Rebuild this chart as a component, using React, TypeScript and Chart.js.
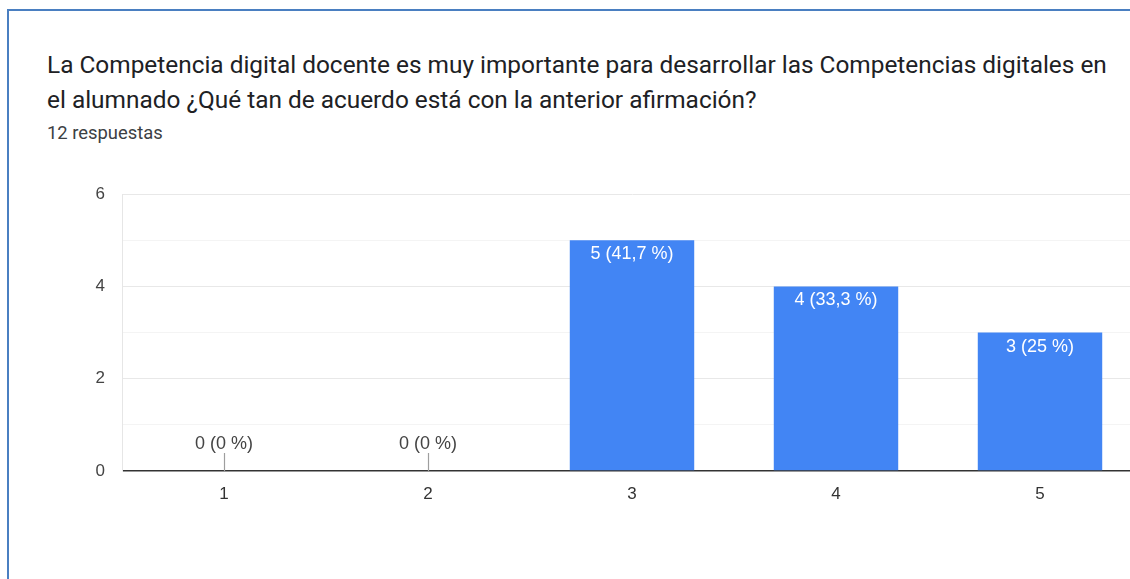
import React, { useEffect, useRef } from "react";
import { Chart, registerables } from "chart.js";

Chart.register(...registerables);

const titleLines = [
  "La Competencia digital docente es muy importante para desarrollar las Competencias digitales en",
  "el alumnado ¿Qué tan de acuerdo está con la anterior afirmación?",
];
const responsesLabel = "12 respuestas";
const totalResponses = 12;
const categories = ["1", "2", "3", "4", "5"];
const counts = [0, 0, 5, 4, 3];
const yTicks = [0, 2, 4, 6];

const chartFont = "Arial, 'Liberation Sans', sans-serif";

const fmtPct = (v: number) => {
  const p = Math.round((v / totalResponses) * 1000) / 10;
  return String(p).replace(".", ",") + " %";
};

const labelPlugin = {
  id: "barLabels",
  afterDatasetsDraw(chart: any) {
    const ctx = chart.ctx;
    const meta = chart.getDatasetMeta(0);
    const data = chart.data.datasets[0].data as number[];
    ctx.save();
    ctx.font = `18px ${chartFont}`;
    ctx.textAlign = "center";
    ctx.textBaseline = "middle";
    meta.data.forEach((bar: any, i: number) => {
      const v = data[i];
      const text = `${v} (${fmtPct(v)})`;
      if (v > 0) {
        ctx.fillStyle = "#ffffff";
        ctx.fillText(text, bar.x, bar.y + 14);
      } else {
        const base = bar.base;
        ctx.strokeStyle = "#9e9e9e";
        ctx.lineWidth = 1.2;
        ctx.beginPath();
        ctx.moveTo(Math.round(bar.x) + 0.5, base - 18);
        ctx.lineTo(Math.round(bar.x) + 0.5, base);
        ctx.stroke();
        ctx.fillStyle = "#444444";
        ctx.fillText(text, bar.x, base - 27);
      }
    });
    ctx.restore();
  },
};

export default function App() {
  const canvasRef = useRef<HTMLCanvasElement | null>(null);

  useEffect(() => {
    if (!canvasRef.current) return;
    const chart = new Chart(canvasRef.current, {
      type: "bar",
      data: {
        labels: categories,
        datasets: [
          {
            data: counts,
            backgroundColor: "#4285f4",
            borderWidth: 0,
            categoryPercentage: 1,
            barPercentage: 0.61,
          },
        ],
      },
      options: {
        animation: false,
        responsive: false,
        maintainAspectRatio: false,
        layout: { padding: { top: 20, right: 8, bottom: 0, left: 0 } },
        plugins: {
          legend: { display: false },
          tooltip: { enabled: false },
          title: { display: false },
        },
        scales: {
          x: {
            grid: { display: false, drawTicks: false },
            border: { display: false },
            ticks: {
              color: "#333333",
              font: { family: chartFont, size: 17 },
              padding: 13,
            },
            afterFit: (scale: any) => {
              scale.height = 40;
            },
          },
          y: {
            min: 0,
            max: 6,
            border: { display: true, color: "#e6e6e6", width: 1 },
            grid: {
              drawTicks: false,
              color: (c: any) =>
                c.tick.value === 0
                  ? "#333333"
                  : c.tick.value % 2 === 0
                  ? "#e8e8e8"
                  : "#f4f4f4",
              lineWidth: (c: any) => (c.tick.value === 0 ? 1.5 : 1),
            },
            ticks: {
              stepSize: 1,
              padding: 17,
              color: "#444444",
              font: { family: chartFont, size: 17 },
              callback: (v: any) => (yTicks.includes(Number(v)) ? String(v) : ""),
            },
            afterFit: (scale: any) => {
              scale.width = 122;
            },
          },
        },
      },
      plugins: [labelPlugin],
    });
    return () => chart.destroy();
  }, []);

  return (
    <div
      style={{
        position: "fixed",
        left: 0,
        top: 0,
        width: 1130,
        height: 579,
        overflow: "hidden",
        background: "#ffffff",
        fontFamily: "Roboto, Arial, sans-serif",
      }}
    >
      <div
        style={{
          position: "absolute",
          left: 7,
          top: 9,
          width: 1200,
          height: 700,
          borderLeft: "2px solid #4a7fc1",
          borderTop: "2px solid #4a7fc1",
        }}
      />
      <div
        style={{
          position: "absolute",
          left: 47,
          top: 47,
          fontSize: 24.4,
          lineHeight: "35px",
          color: "#202124",
          whiteSpace: "nowrap",
        }}
      >
        {titleLines.map((l, i) => (
          <div key={i}>{l}</div>
        ))}
      </div>
      <div
        style={{
          position: "absolute",
          left: 47,
          top: 122,
          fontSize: 18.4,
          color: "#3c4043",
          whiteSpace: "nowrap",
        }}
      >
        {responsesLabel}
      </div>
      <canvas
        ref={canvasRef}
        width={1150}
        height={344}
        style={{ position: "absolute", left: 0, top: 167, width: 1150, height: 344 }}
      />
    </div>
  );
}
